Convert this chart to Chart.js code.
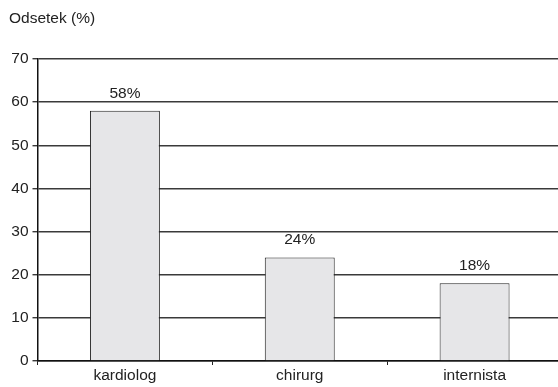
<!DOCTYPE html>
<html>
<head>
<meta charset="utf-8">
<script src="https://cdn.jsdelivr.net/npm/chart.js@4/dist/chart.umd.min.js"></script>
<style>
  html, body { margin: 0; padding: 0; background: #fff; overflow: hidden; }
  #wrap { width: 562px; height: 387px; }
</style>
</head>
<body>
<div id="wrap"><canvas id="c" width="562" height="387"></canvas></div>
<script>
// Share of respondents by specialty
const categories = ['kardiolog', 'chirurg', 'internista'];
const values = [58, 24, 18];
const yTicks = [0, 10, 20, 30, 40, 50, 60, 70];
const axisTitle = 'Odsetek (%)';

const FONT = '"Liberation Sans", Arial, sans-serif';
const FONT_SIZE = 15.5;

// Axis caption in the top-left corner and percentage labels above bars
const annotate = {
  id: 'annotate',
  afterDatasetsDraw(chart) {
    const ctx = chart.ctx;
    ctx.save();
    ctx.fillStyle = '#222';
    ctx.font = FONT_SIZE + 'px ' + FONT;
    ctx.textAlign = 'left';
    ctx.textBaseline = 'middle';
    ctx.fillText(axisTitle, 9, 19);
    const meta = chart.getDatasetMeta(0);
    ctx.textAlign = 'center';
    ctx.textBaseline = 'alphabetic';
    meta.data.forEach((bar, i) => {
      ctx.fillText(values[i] + '%', bar.x, bar.y - 13);
    });
    ctx.restore();
  }
};

new Chart(document.getElementById('c'), {
  type: 'bar',
  data: {
    labels: categories,
    datasets: [{
      data: values,
      backgroundColor: '#e6e6e8',
      borderColor: '#222',
      borderWidth: 1,
      barPercentage: 0.4,
      categoryPercentage: 1.0
    }]
  },
  options: {
    responsive: false,
    animation: false,
    devicePixelRatio: 1,
    layout: { padding: { top: 59, right: 0, left: 0, bottom: 0 } },
    plugins: { legend: { display: false }, tooltip: { enabled: false } },
    scales: {
      y: {
        min: 0,
        max: 70,
        afterFit(scale) { scale.width = 37.5; },
        afterBuildTicks(scale) { scale.ticks = yTicks.map(v => ({ value: v })); },
        ticks: { color: '#222', font: { family: FONT, size: FONT_SIZE }, padding: 4 },
        grid: { color: '#3a3a3a', lineWidth: 1.4, tickLength: 5, drawTicks: true },
        border: { color: '#111', width: 1.5 }
      },
      x: {
        afterFit(scale) { scale.height = 26; },
        ticks: { color: '#222', font: { family: FONT, size: FONT_SIZE }, padding: 1 },
        grid: { offset: true, drawOnChartArea: false, color: '#222', lineWidth: 1, tickLength: 4 },
        border: { color: '#111', width: 1.5 }
      }
    }
  },
  plugins: [annotate]
});
</script>
</body>
</html>
